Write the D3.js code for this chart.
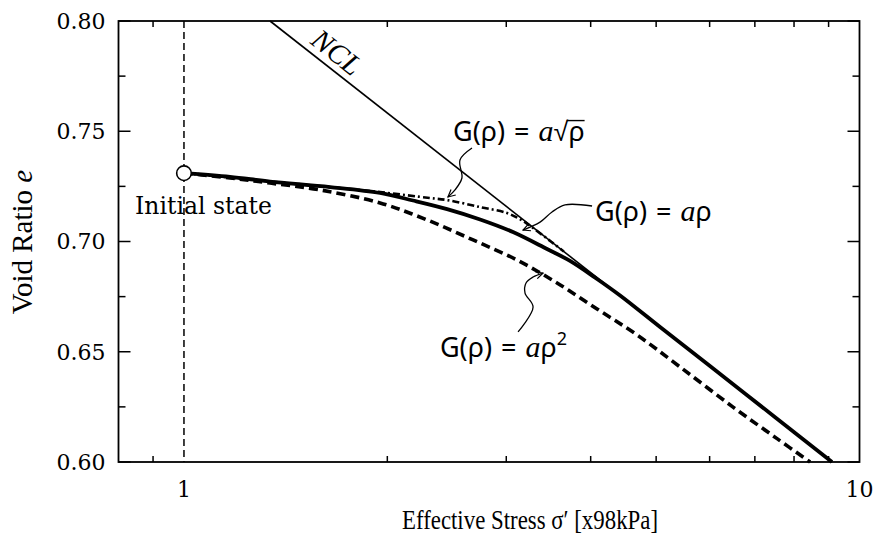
<!DOCTYPE html>
<html><head><meta charset="utf-8">
<script src="https://cdn.jsdelivr.net/npm/d3@7/dist/d3.min.js"></script>
<style>body{margin:0;background:#fff}</style>
</head><body><svg id="chart" width="878" height="554"></svg>
<script>
// ---------- data ----------
const xDomain = [0.8, 10];
const yDomain = [0.60, 0.80];
const yMajorTicks = [0.60, 0.65, 0.70, 0.75, 0.80];
const yMinorTicks = [0.625, 0.675, 0.725, 0.775];
const xMinorTicks = [0.9, 2, 3, 4, 5, 6, 7, 8, 9];
const xLabelTicks = [1, 10];
const yTickLabels = ["0.60", "0.65", "0.70", "0.75", "0.80"];

const initialSigma = 1.0;
const initialE = 0.731;

const nclSigma = [1.341, 9.105];
const nclE = [0.80, 0.60];

// G(rho) = a rho  (solid)
const linSigma = [1.0, 1.170, 1.341, 1.645, 1.951, 2.183, 2.452, 2.744, 3.069, 3.447, 3.728, 4.088, 4.422, 5.067, 6.0, 7.5, 9.105];
const linE     = [0.731, 0.7293, 0.7272, 0.7247, 0.7220, 0.7186, 0.7147, 0.7100, 0.7043, 0.6966, 0.6912, 0.6830, 0.6755, 0.6612, 0.6436, 0.6203, 0.600];

// G(rho) = a rho^2  (dashed)
const sqSigma = [1.0, 1.170, 1.341, 1.590, 1.951, 2.290, 2.679, 3.112, 3.567, 4.088, 4.686, 5.425, 6.499, 7.550, 8.450];
const sqE     = [0.731, 0.7288, 0.7265, 0.7234, 0.7175, 0.7098, 0.7007, 0.6916, 0.6812, 0.6694, 0.6576, 0.6431, 0.6249, 0.6106, 0.600];

// G(rho) = a sqrt(rho)  (dash-dot)
const rtSigma = [1.0, 1.341, 1.645, 1.951, 2.314, 2.452, 2.744, 3.008, 3.176, 3.287, 3.5, 3.65];
const rtE     = [0.731, 0.7272, 0.7247, 0.7224, 0.7197, 0.7188, 0.7156, 0.7129, 0.7093, 0.7061, 0.6998, 0.6955];

// annotation leader lines (data units)
const leadRtSigma = [2.669, 2.562, 2.579, 2.519, 2.459];
const leadRtE     = [0.7424, 0.7370, 0.7288, 0.7234, 0.7202];
const leadLinSigma = [4.019, 3.665, 3.506, 3.366, 3.176];
const leadLinE     = [0.7161, 0.7166, 0.7134, 0.7088, 0.7052];
const leadSqSigma = [3.123, 3.287, 3.198, 3.209, 3.287, 3.401];
const leadSqE     = [0.6590, 0.6703, 0.6766, 0.6812, 0.6839, 0.6857];

// ---------- layout ----------
const svg = d3.select("#chart");
const L = 118.5, R = 859.5, T = 21, B = 462;
const x = d3.scaleLog().domain(xDomain).range([L, R]);
const y = d3.scaleLinear().domain(yDomain).range([B, T]);
const zip = (a, b) => a.map((v, i) => [v, b[i]]);
const line = d3.line().x(d => x(d[0])).y(d => y(d[1])).curve(d3.curveCatmullRom.alpha(0.5));
const straight = d3.line().x(d => x(d[0])).y(d => y(d[1]));
const smooth = d3.line().x(d => x(d[0])).y(d => y(d[1])).curve(d3.curveCatmullRom.alpha(0.5));

svg.append("defs").append("marker")
  .attr("id", "arr").attr("viewBox", "0 0 10 10").attr("refX", 9).attr("refY", 5)
  .attr("markerWidth", 9).attr("markerHeight", 9).attr("markerUnits", "userSpaceOnUse")
  .attr("orient", "auto")
  .append("path").attr("d", "M1,1 L9,5 L1,9").attr("fill", "none").attr("stroke", "#000").attr("stroke-width", 1.3);

const serif = "'DejaVu Serif', serif";
const tserif = "'Liberation Serif', serif";

// vertical dashed line at sigma = 1
svg.append("line")
  .attr("x1", x(initialSigma)).attr("x2", x(initialSigma))
  .attr("y1", y(yDomain[1])).attr("y2", y(yDomain[0]))
  .attr("stroke", "#000").attr("stroke-width", 1.5).attr("stroke-dasharray", "7,4");

// NCL
svg.append("path").attr("d", straight(zip(nclSigma, nclE)))
  .attr("fill", "none").attr("stroke", "#000").attr("stroke-width", 1.6);

// curves
svg.append("path").attr("d", line(zip(rtSigma, rtE)))
  .attr("fill", "none").attr("stroke", "#000").attr("stroke-width", 2.6)
  .attr("stroke-dasharray", "7,3,2,3");
svg.append("path").attr("d", line(zip(sqSigma, sqE)))
  .attr("fill", "none").attr("stroke", "#000").attr("stroke-width", 3.6)
  .attr("stroke-dasharray", "9,5");
svg.append("path").attr("d", line(zip(linSigma, linE)))
  .attr("fill", "none").attr("stroke", "#000").attr("stroke-width", 3.8);

// frame
svg.append("rect").attr("x", L).attr("y", T).attr("width", R - L).attr("height", B - T)
  .attr("fill", "none").attr("stroke", "#000").attr("stroke-width", 1.8);

// ticks (inward)
const tk = svg.append("g").attr("stroke", "#000").attr("stroke-width", 1.5);
yMajorTicks.forEach(v => {
  tk.append("line").attr("x1", L).attr("x2", L + 12).attr("y1", y(v)).attr("y2", y(v));
  tk.append("line").attr("x1", R).attr("x2", R - 12).attr("y1", y(v)).attr("y2", y(v));
});
yMinorTicks.forEach(v => {
  tk.append("line").attr("x1", L).attr("x2", L + 7).attr("y1", y(v)).attr("y2", y(v));
  tk.append("line").attr("x1", R).attr("x2", R - 7).attr("y1", y(v)).attr("y2", y(v));
});
xMinorTicks.forEach(v => {
  tk.append("line").attr("x1", x(v)).attr("x2", x(v)).attr("y1", B).attr("y2", B - 6);
  tk.append("line").attr("x1", x(v)).attr("x2", x(v)).attr("y1", T).attr("y2", T + 6);
});

// tick labels
yMajorTicks.forEach((v, i) => {
  svg.append("text").attr("x", L - 13).attr("y", y(v)).attr("dy", "0.36em")
    .attr("text-anchor", "end").attr("font-family", serif).attr("font-size", 22)
    .text(yTickLabels[i]);
});
xLabelTicks.forEach(v => {
  svg.append("text").attr("x", x(v)).attr("y", 497)
    .attr("text-anchor", "middle").attr("font-family", serif).attr("font-size", 22)
    .text(String(v));
});

// axis titles
svg.append("text").attr("x", 530).attr("y", 529).attr("text-anchor", "middle")
  .attr("font-family", tserif).attr("font-size", 27)
  .attr("textLength", 256).attr("lengthAdjust", "spacingAndGlyphs")
  .text("Effective Stress σ\u2032 [x98kPa]");
svg.append("text").attr("transform", "translate(32,242) rotate(-90)").attr("text-anchor", "middle")
  .attr("font-family", tserif).attr("font-size", 29)
  .html("Void Ratio <tspan font-style='italic'>e</tspan>");

// initial state marker
svg.append("circle").attr("cx", x(initialSigma)).attr("cy", y(initialE)).attr("r", 7.3)
  .attr("fill", "#fff").attr("stroke", "#000").attr("stroke-width", 1.6);
svg.append("text").attr("x", x(0.8464)).attr("y", y(0.7125))
  .attr("font-family", serif).attr("font-size", 23.5).text("Initial state");

// NCL label
svg.append("text").attr("transform", `translate(${x(1.685)},${y(0.7859)}) rotate(38.3)`)
  .attr("text-anchor", "middle").attr("dy", "0.35em")
  .attr("font-family", tserif).attr("font-style", "italic").attr("font-size", 29)
  .text("NCL");

// leader lines
[[leadRtSigma, leadRtE], [leadLinSigma, leadLinE], [leadSqSigma, leadSqE]].forEach(([s, e]) => {
  svg.append("path").attr("d", smooth(zip(s, e))).attr("fill", "none")
    .attr("stroke", "#000").attr("stroke-width", 1.3).attr("marker-end", "url(#arr)");
});

// G labels
const gfont = "'Noto Sans', sans-serif";
const gSize = 27;
function gLabel(sx, ey, tail) {
  const t = svg.append("text").attr("x", x(sx)).attr("y", y(ey))
    .attr("font-family", gfont).attr("font-size", gSize).attr("word-spacing", 2);
  t.append("tspan").text("G(ρ) = ");
  t.append("tspan").attr("font-style", "italic").attr("font-family", tserif).attr("font-size", 30).text("a");
  tail(t);
  return t;
}
const rootLabel = gLabel(2.502, 0.7456, t => { t.append("tspan").text("\u221Aρ"); });
// vinculum over rho
{
  const node = rootLabel.node();
  const n = node.getNumberOfChars();
  const ext = node.getExtentOfChar(n - 1);
  const extR = node.getExtentOfChar(n - 2);
  const by = y(0.7456);
  svg.append("line")
    .attr("x1", extR.x + extR.width - 1.5).attr("x2", ext.x + ext.width)
    .attr("y1", by - gSize * 0.755).attr("y2", by - gSize * 0.755)
    .attr("stroke", "#000").attr("stroke-width", 1.4);
}
gLabel(4.060, 0.7093, t => { t.append("tspan").text("ρ"); });
gLabel(2.393, 0.6476, t => {
  t.append("tspan").text("ρ");
  t.append("tspan").attr("dy", -12).attr("font-size", 18).text("2");
});
</script></body></html>
